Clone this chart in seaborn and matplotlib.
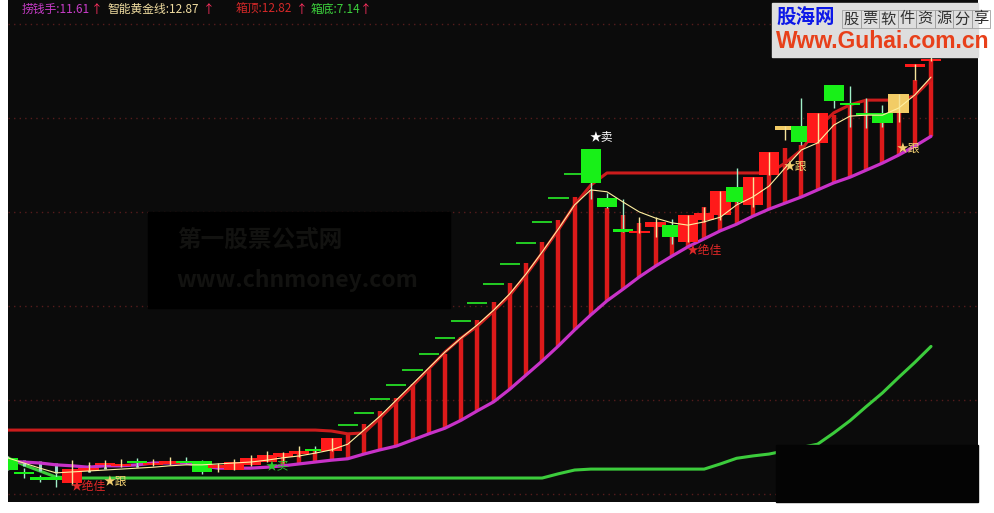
import matplotlib
matplotlib.use("Agg")
import matplotlib.pyplot as plt
from matplotlib.patches import Rectangle
import pandas as pd
import seaborn as sns

# ---- indicator lines (price units), one value per trading day ----
laoqian = [4.70, 4.68, 4.66, 4.62, 4.60, 4.57, 4.60, 4.60, 4.62, 4.66,
           4.66, 4.66, 4.60, 4.55, 4.55, 4.55, 4.57, 4.60, 4.64, 4.68,
           4.72, 4.75, 4.85, 4.94, 5.02, 5.15, 5.28, 5.40, 5.57, 5.77,
           5.96, 6.23, 6.53, 6.83, 7.15, 7.49, 7.81, 8.11, 8.36, 8.62,
           8.85, 9.06, 9.26, 9.43, 9.60, 9.74, 9.91, 10.06, 10.19, 10.32,
           10.47, 10.62, 10.74, 10.89, 11.04, 11.21, 11.40, 11.61]
golden = [4.77, 4.66, 4.55, 4.45, 4.47, 4.49, 4.51, 4.53, 4.55, 4.57,
          4.60, 4.62, 4.62, 4.64, 4.66, 4.68, 4.72, 4.77, 4.81, 4.87,
          4.94, 5.06, 5.36, 5.66, 6.00, 6.34, 6.68, 7.02, 7.32, 7.60,
          7.91, 8.26, 8.68, 9.15, 9.64, 10.15, 10.47, 10.43, 10.21, 10.00,
          9.87, 9.77, 9.72, 9.79, 9.89, 10.15, 10.32, 10.55, 10.94, 11.32,
          11.47, 11.85, 12.04, 12.06, 12.06, 12.21, 12.49, 12.87]
box_top = [5.36, 5.36, 5.36, 5.36, 5.36, 5.36, 5.36, 5.36, 5.36, 5.36,
           5.36, 5.36, 5.36, 5.36, 5.36, 5.36, 5.36, 5.36, 5.36, 5.36,
           5.34, 5.28, 5.30, 5.62, 5.96, 6.30, 6.66, 7.02, 7.32, 7.57,
           7.89, 8.23, 8.66, 9.13, 9.62, 10.15, 10.57, 10.83, 10.83, 10.83,
           10.83, 10.83, 10.83, 10.83, 10.83, 10.83, 10.83, 10.83, 11.04, 11.32,
           11.79, 12.11, 12.28, 12.38, 12.38, 12.38, 12.47, 12.82]
box_bottom = [4.77, 4.62, 4.49, 4.36, 4.34, 4.34, 4.34, 4.34, 4.34, 4.34,
              4.34, 4.34, 4.34, 4.34, 4.34, 4.34, 4.34, 4.34, 4.34, 4.34,
              4.34, 4.34, 4.34, 4.34, 4.34, 4.34, 4.34, 4.34, 4.34, 4.34,
              4.34, 4.34, 4.34, 4.34, 4.43, 4.51, 4.53, 4.53, 4.53, 4.53,
              4.53, 4.53, 4.53, 4.53, 4.64, 4.76, 4.81, 4.85, 4.92, 4.99,
              5.06, 5.30, 5.56, 5.86, 6.15, 6.48, 6.80, 7.14]
# end of the histogram bar drawn from the 捞钱手 line
bar_end = [4.70, 4.60, 4.49, 4.45, 4.60, 4.47, 4.53, 4.60, 4.57, 4.66,
           4.66, 4.66, 4.60, 4.55, 4.55, 4.55, 4.57, 4.87, 4.89, 4.96,
           5.13, 5.30, 5.49, 5.77, 6.04, 6.34, 6.66, 6.98, 7.34, 7.70,
           8.09, 8.49, 8.91, 9.36, 9.83, 10.32, 10.47, 10.09, 9.94, 9.77,
           9.79, 9.68, 9.89, 10.11, 10.26, 10.21, 10.74, 11.11, 11.36, 11.43,
           11.49, 12.06, 12.32, 12.38, 11.89, 12.11, 12.81, 13.23]

# ---- K-line ----
k_open = [4.77, 4.47, 4.36, 4.36, 4.23, 4.49, 4.62, 4.60, 4.70, 4.62,
          4.64, 4.70, 4.70, 4.57, 4.51, 4.62, 4.68, 4.79, 4.85, 4.96,
          4.91, 5.47, 5.72, 6.02, 6.32, 6.64, 6.98, 7.32, 7.68, 8.06,
          8.47, 8.89, 9.34, 9.79, 10.30, 10.81, 11.34, 10.30, 9.64, 9.55,
          9.68, 9.72, 9.36, 9.83, 9.94, 10.53, 10.15, 10.79, 11.74, 11.83,
          11.47, 12.70, 12.32, 12.11, 12.11, 12.11, 13.09, 13.21]
k_high = [4.81, 4.55, 4.40, 4.45, 4.72, 4.68, 4.72, 4.75, 4.77, 4.75,
          4.79, 4.79, 4.72, 4.66, 4.75, 4.83, 4.91, 4.89, 5.02, 5.02,
          5.19, 5.47, 5.72, 6.02, 6.32, 6.64, 6.98, 7.32, 7.68, 8.06,
          8.47, 8.89, 9.34, 9.79, 10.30, 10.81, 11.34, 10.40, 10.28, 9.89,
          9.89, 9.85, 9.94, 10.11, 10.45, 10.94, 10.74, 11.28, 11.83, 12.43,
          12.11, 12.70, 12.68, 12.43, 12.28, 12.51, 13.15, 13.81]
k_low = [4.51, 4.34, 4.26, 4.15, 4.19, 4.47, 4.55, 4.57, 4.57, 4.60,
         4.62, 4.66, 4.43, 4.47, 4.51, 4.60, 4.68, 4.66, 4.79, 4.87,
         4.91, 5.47, 5.72, 6.02, 6.32, 6.64, 6.98, 7.32, 7.68, 8.06,
         8.47, 8.89, 9.34, 9.79, 10.30, 10.81, 10.28, 10.09, 9.57, 9.55,
         9.47, 9.32, 9.36, 9.79, 9.83, 10.19, 10.11, 10.79, 11.53, 11.43,
         11.47, 12.21, 11.81, 11.79, 11.81, 11.91, 12.81, 13.21]
k_close = [4.51, 4.43, 4.30, 4.30, 4.53, 4.55, 4.66, 4.64, 4.66, 4.66,
           4.70, 4.66, 4.47, 4.60, 4.68, 4.77, 4.83, 4.87, 4.91, 4.91,
           5.19, 5.47, 5.72, 6.02, 6.32, 6.64, 6.98, 7.32, 7.68, 8.06,
           8.47, 8.89, 9.34, 9.79, 10.30, 10.81, 10.62, 10.11, 9.57, 9.60,
           9.79, 9.47, 9.94, 9.98, 10.45, 10.21, 10.74, 11.28, 11.83, 11.49,
           12.11, 12.36, 12.28, 12.06, 11.89, 12.51, 13.15, 13.25]
# r = up, g = down, f = one-price limit day, y = highlighted day
k_kind = list("ggggrrrrgrrggrrrrrrgr" + "fffffffffffffff" + "gggrrgrrrgrrygrggggyrr")

# ---- signals ----
sig_idx = [4, 6, 16, 36, 42, 48, 55]
sig_price = [4.15, 4.27, 4.57, 11.60, 9.19, 10.96, 11.36]
sig_text = ['★绝佳', '★跟', '★买', '★卖', '★绝佳', '★跟', '★跟']
sig_color = ['#e02828', '#f2d070', '#2ec82e', '#ffffff', '#e02828', '#f2d070', '#f2d070']

# ---- header ----
head_text = ['捞钱手:11.61', '智能黄金线:12.87', '箱顶:12.82', '箱底:7.14']
head_color = ['#c83cc8', '#f0dca0', '#d42828', '#3cd23c']
head_x = [22, 107, 236, 311]
arrow_x = [91, 203, 296, 360]

days = list(range(len(laoqian)))
df = pd.DataFrame({'day': days, 'laoqian': laoqian, 'golden': golden,
                   'box_top': box_top, 'box_bottom': box_bottom})

sns.set_theme(style="dark", rc={'axes.facecolor': '#0b0b0b', 'figure.facecolor': 'white'})
plt.rcParams['font.family'] = ['Noto Sans CJK SC', 'DejaVu Sans']

W, H = 994, 513
fig = plt.figure(figsize=(W / 100, H / 100), dpi=100)
ax = fig.add_axes([8 / W, 11 / H, 970 / W, 502 / H])
fx = lambda px: px / W
fy = lambda py: 1 - py / H

# grid
ax.set_yticks([4, 6, 8, 10, 12, 14])
ax.set_xticks([])
ax.grid(True, axis='y', color='#561c1c', linestyle=(0, (1, 3)), lw=1.0)
ax.set_axisbelow(True)
ax.tick_params(left=False, labelleft=False, bottom=False, labelbottom=False)
for s in ax.spines.values():
    s.set_visible(False)

# watermark box
ax.add_patch(Rectangle((fx(148), fy(308)), fx(450) - fx(148), fy(212) - fy(308),
                       transform=fig.transFigure, color='#000000', zorder=1.5))
ax.text(fx(177), fy(240), '第一股票公式网', transform=fig.transFigure, fontsize=17,
        fontweight='bold', color='#121210', va='center', ha='left', zorder=1.6)
ax.text(fx(176), fy(281), 'www.chnmoney.com', transform=fig.transFigure, fontsize=16.5,
        fontweight='bold', color='#121210', va='center', ha='left', zorder=1.6)

# box bottom / box top / 捞钱手 / golden line
sns.lineplot(data=df, x='day', y='box_bottom', ax=ax, color='#3ccc3c', lw=2.2, zorder=2, legend=False)
for i in days:
    if bar_end[i] > laoqian[i] + 0.01:
        ax.vlines(i, laoqian[i], bar_end[i], color='#dc1a1a', lw=3.2, zorder=3)
    elif bar_end[i] < laoqian[i] - 0.01:
        ax.vlines(i, bar_end[i], laoqian[i] + 0.05, color='#98d8c8', lw=2.2, zorder=3)
sns.lineplot(data=df, x='day', y='box_top', ax=ax, color='#cc1c1c', lw=2.2, zorder=4, legend=False)
sns.lineplot(data=df, x='day', y='laoqian', ax=ax, color='#c832c8', lw=2.3, zorder=5, legend=False)

# candles
body_c = {'r': '#ff1a1a', 'g': '#18f018', 'y': '#f2cc66', 'f': '#22c822'}
wick_c = {'r': '#f6e49a', 'g': '#a0f0c8', 'y': '#f6e49a', 'f': '#22c822'}
for i in days:
    o, h, l, c, kd = k_open[i], k_high[i], k_low[i], k_close[i], k_kind[i]
    lo, hi = min(o, c), max(o, c)
    ht = hi - lo
    if ht < 0.05:
        lo = (lo + hi) / 2 - 0.025
        ht = 0.05
    if kd != 'f':
        ax.vlines(i, l, h, color=wick_c[kd], lw=1.0, zorder=7 if kd in 'ry' else 5.5)
    ax.bar(i, ht, bottom=lo, width=1.25, color=body_c[kd], linewidth=0, zorder=6)

sns.lineplot(data=df, x='day', y='golden', ax=ax, color='#fff0a0', lw=0.8, zorder=7.5, legend=False)

for i, p, t, c in zip(sig_idx, sig_price, sig_text, sig_color):
    ax.text(i - 0.1, p, t, color=c, fontsize=8.5, ha='left', va='center', zorder=8)

ax.set_xlim(0.03, 59.9)
ax.set_ylim(3.83, 14.51)
ax.set_xlabel('')
ax.set_ylabel('')

# header values
for t, c, x, ax_ in zip(head_text, head_color, head_x, arrow_x):
    fig.text(fx(x), fy(9), t, color=c, fontsize=8.5, ha='left', va='center')
    fig.text(fx(ax_), fy(9), '↑', color='#ff3060', fontsize=8.5, ha='left', va='center')

# covering box bottom-right
fig.add_artist(Rectangle((fx(776), fy(502)), fx(978) - fx(776), fy(445) - fy(502),
                         transform=fig.transFigure, color='#040404', zorder=10))

# site logo
fig.add_artist(Rectangle((fx(772), fy(57)), fx(978) - fx(772), fy(3) - fy(57),
                         transform=fig.transFigure, color='#dedede', zorder=10))
fig.text(fx(776), fy(18), '股海网', color='#0c18e8', fontsize=14, fontweight='bold',
         ha='left', va='center', zorder=11)
for k, ch in enumerate('股票软件资源分享'):
    x0 = 842 + k * 18.5
    fig.add_artist(Rectangle((fx(x0), fy(28)), fx(18.5), fy(10) - fy(28), transform=fig.transFigure,
                             facecolor='none', edgecolor='#a0a0a0', lw=0.6, zorder=11))
    fig.text(fx(x0 + 9.25), fy(19), ch, color='#303030', fontsize=11, ha='center', va='center', zorder=12)
fig.text(fx(776), fy(42), 'Www.Guhai.com.cn', color='#e8401a', fontsize=16.5, fontweight='bold',
         family=['Liberation Sans', 'DejaVu Sans'], ha='left', va='center', zorder=11)

fig.savefig('out.png', dpi=100, facecolor='white')
